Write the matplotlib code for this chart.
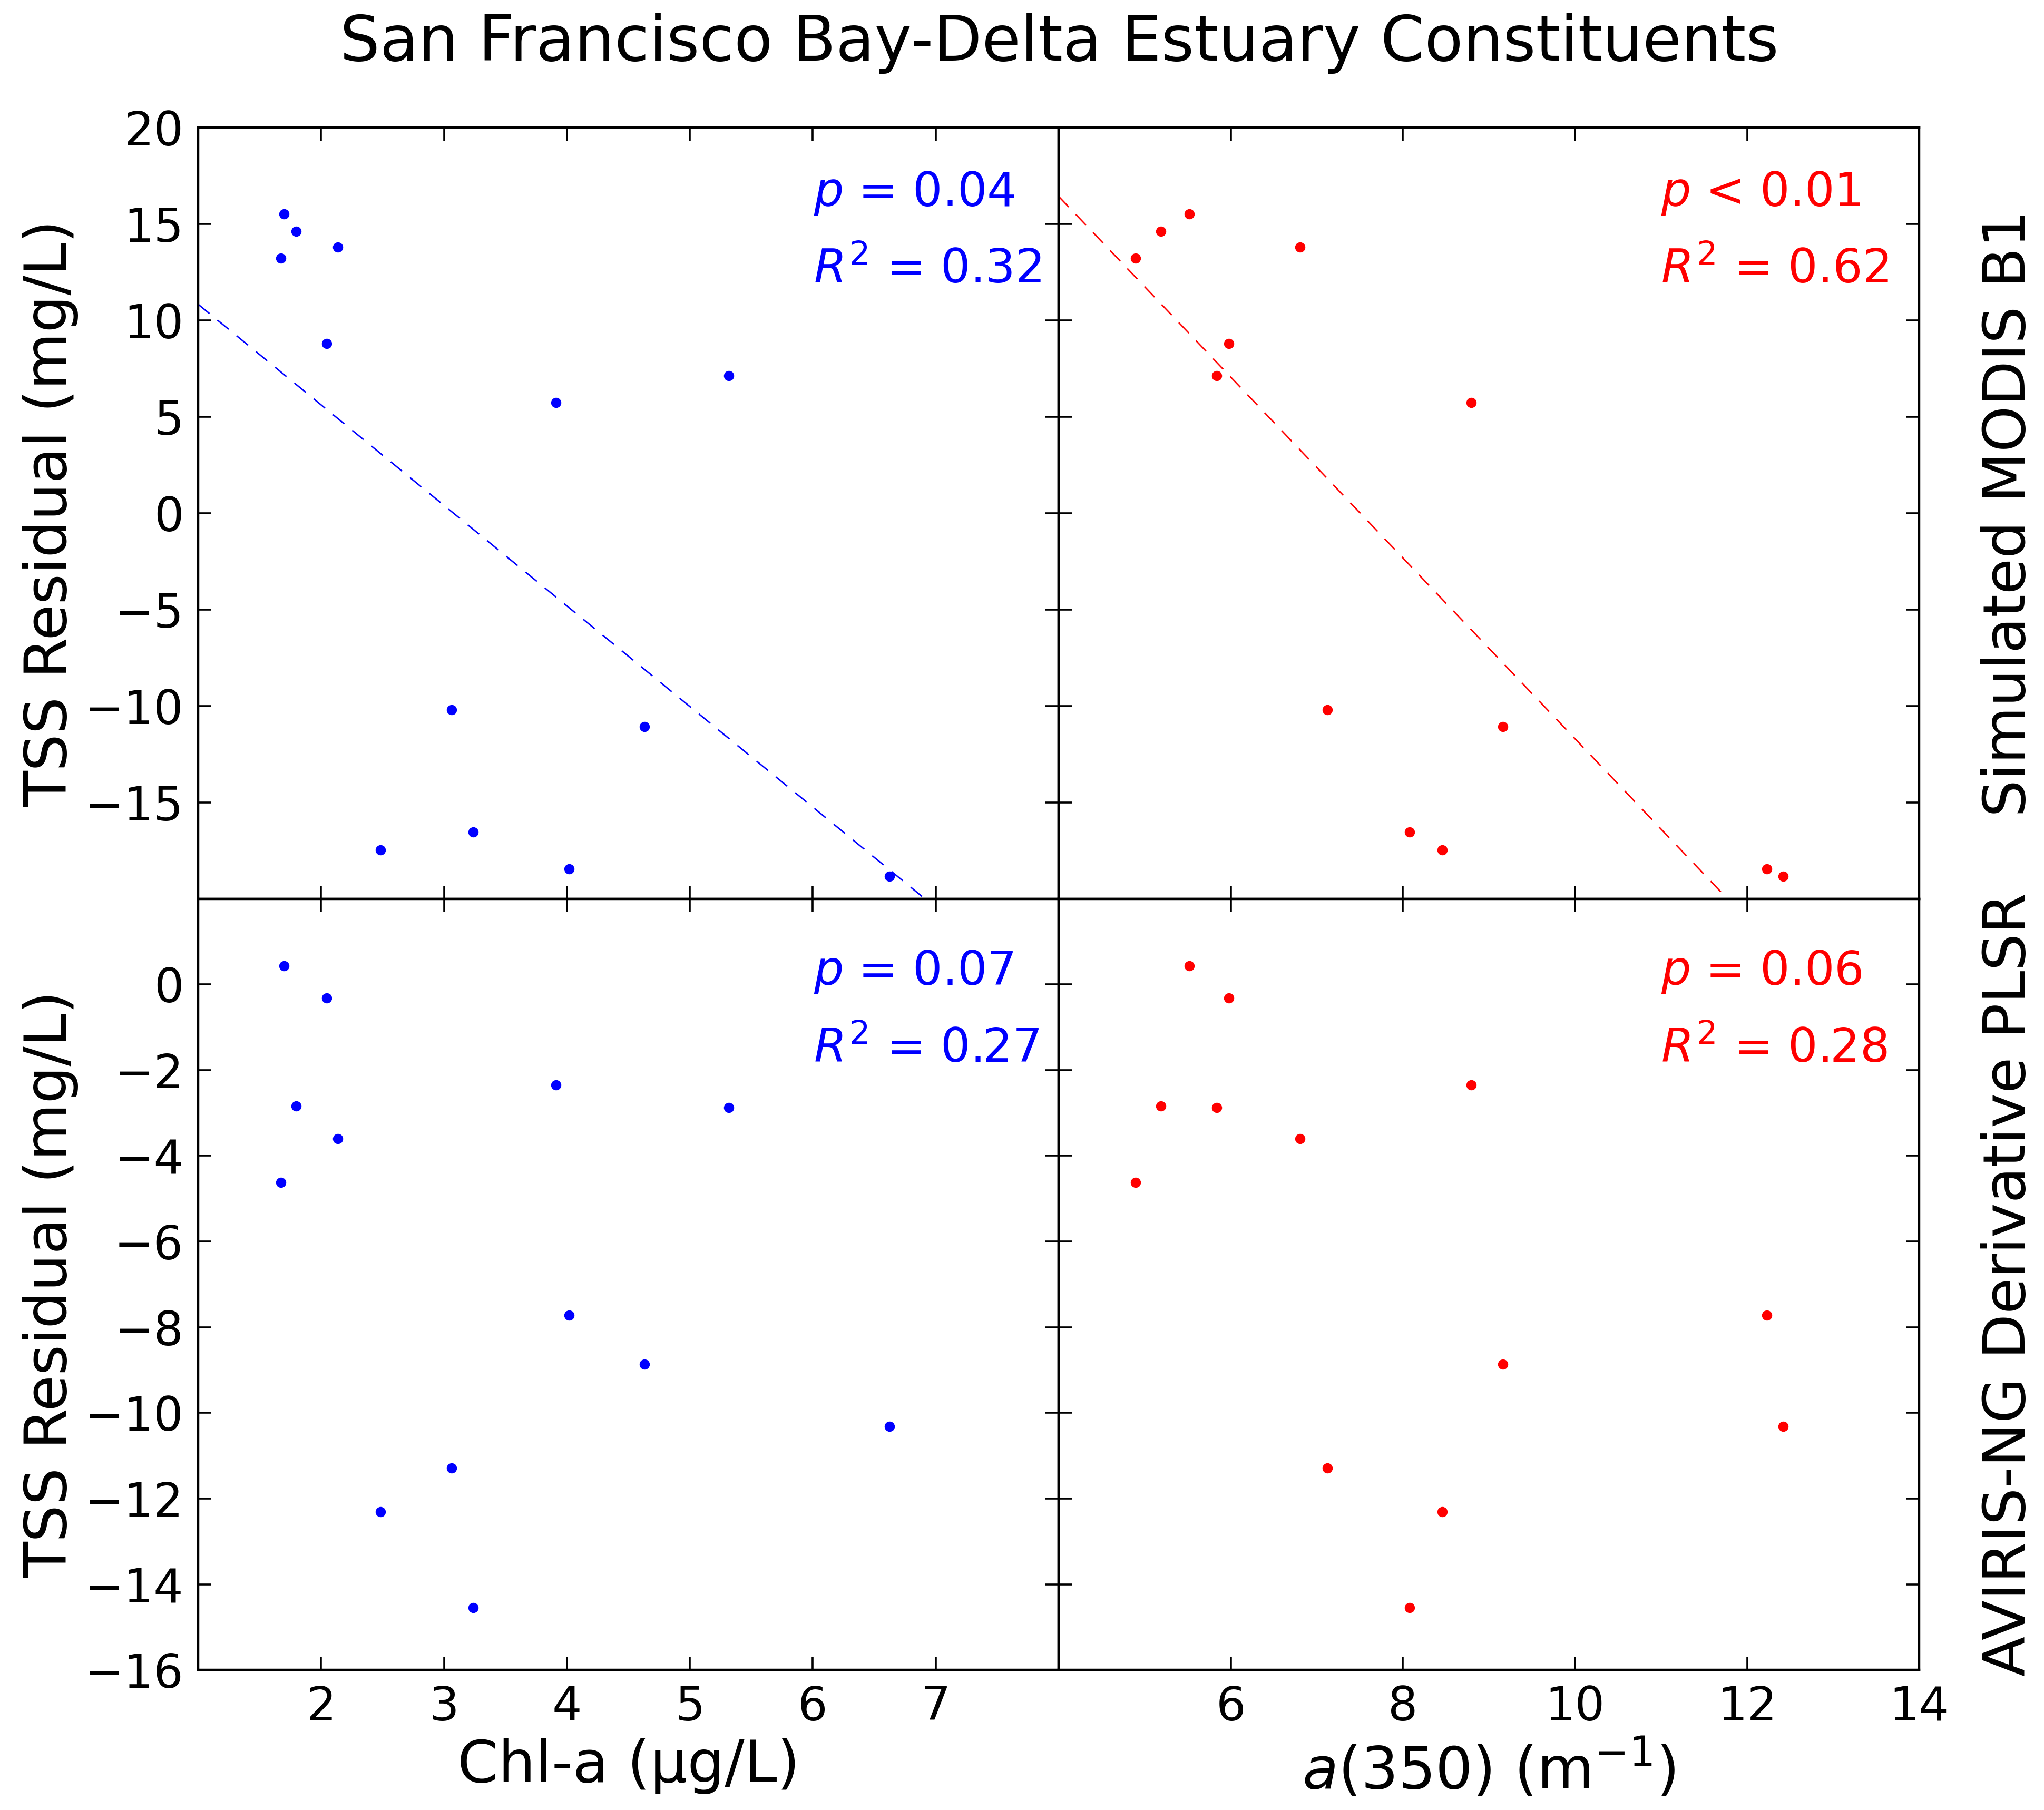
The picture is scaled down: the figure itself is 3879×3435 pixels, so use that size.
import numpy as np
import matplotlib
matplotlib.use("Agg")
import matplotlib.pyplot as plt

# values (13 samples)
chl_a = [1.699, 1.797, 1.671, 2.135, 2.048, 3.909, 5.318, 3.063, 4.630, 2.485, 3.238, 4.019, 6.622]
a350 = [5.520, 5.189, 4.895, 6.807, 5.979, 8.793, 5.836, 7.123, 9.162, 8.455, 8.078, 12.232, 12.420]
resid_modis = [15.51, 14.62, 13.22, 13.81, 8.79, 5.75, 7.14, -10.21, -11.07, -17.46, -16.54, -18.44, -18.83]
resid_aviris = [0.43, -2.84, -4.62, -3.60, -0.32, -2.35, -2.87, -11.29, -8.87, -12.31, -14.55, -7.72, -10.31]

row_labels = ["Simulated MODIS B1", "AVIRIS-NG Derivative PLSR"]
x_labels = ["Chl-a (\u03bcg/L)", "$a$(350) (m$^{-1}$)"]
stats = [[("0.04", "=", "0.32"), ("0.01", "<", "0.62")],
         [("0.07", "=", "0.27"), ("0.06", "=", "0.28")]]
show_fit = [[True, True], [False, False]]

xlims = [(1, 8), (4, 14)]
xticks = [[2, 3, 4, 5, 6, 7], [6, 8, 10, 12, 14]]
ylims = [(-20, 20), (-16, 2)]
yticks = [[-15, -10, -5, 0, 5, 10, 15, 20], [-16, -14, -12, -10, -8, -6, -4, -2, 0]]
colors = ["blue", "red"]

plt.rcParams["font.family"] = "DejaVu Sans"
plt.rcParams["mathtext.fontset"] = "dejavusans"

fig, axes = plt.subplots(2, 2, figsize=(19.4, 17.175), dpi=200)
fig.subplots_adjust(left=0.0969, right=0.9387, top=0.9295, bottom=0.0774,
                    wspace=0, hspace=0)

xs = [chl_a, a350]
ys = [resid_modis, resid_aviris]

for r in range(2):
    for c in range(2):
        ax = axes[r, c]
        x = np.array(xs[c])
        y = np.array(ys[r])
        ax.plot(x, y, "o", color=colors[c], markersize=7, markeredgewidth=0)
        if show_fit[r][c]:
            m, b = np.polyfit(x, y, 1)
            xx = np.array(xlims[c], dtype=float)
            ax.plot(xx, m * xx + b, color=colors[c], lw=1.0, dashes=(10, 7))
        ax.set_xlim(*xlims[c])
        ax.set_ylim(*ylims[r])
        ax.set_xticks(xticks[c])
        ax.set_yticks(yticks[r])
        ax.tick_params(direction="in", top=True, right=True, length=9, width=1.3,
                       labelsize=32, pad=10)
        for sp in ax.spines.values():
            sp.set_linewidth(1.6)

        pv, op, r2 = stats[r][c]
        ty = 0.915 if r == 0 else 0.905
        tx = 0.715 if c == 0 else 0.70
        ax.text(tx, ty, "$p$ %s %s" % (op, pv), transform=ax.transAxes,
                color=colors[c], fontsize=32, va="center", ha="left")
        ax.text(tx, ty - 0.1, "$R^2$ = %s" % r2, transform=ax.transAxes,
                color=colors[c], fontsize=32, va="center", ha="left")

        if c == 0:
            ax.set_ylabel("TSS Residual (mg/L)", fontsize=40, labelpad=4)
        else:
            ax.tick_params(labelleft=False)
            ax.yaxis.set_label_position("right")
            ax.set_ylabel(row_labels[r], fontsize=40, labelpad=42)
        if r == 0:
            ax.tick_params(labelbottom=False)
        else:
            ax.set_xlabel(x_labels[c], fontsize=40, labelpad=5)

fig.suptitle("San Francisco Bay-Delta Estuary Constituents", fontsize=43,
             x=0.518, y=0.993, va="top")

fig.savefig("out.png", dpi=200)
